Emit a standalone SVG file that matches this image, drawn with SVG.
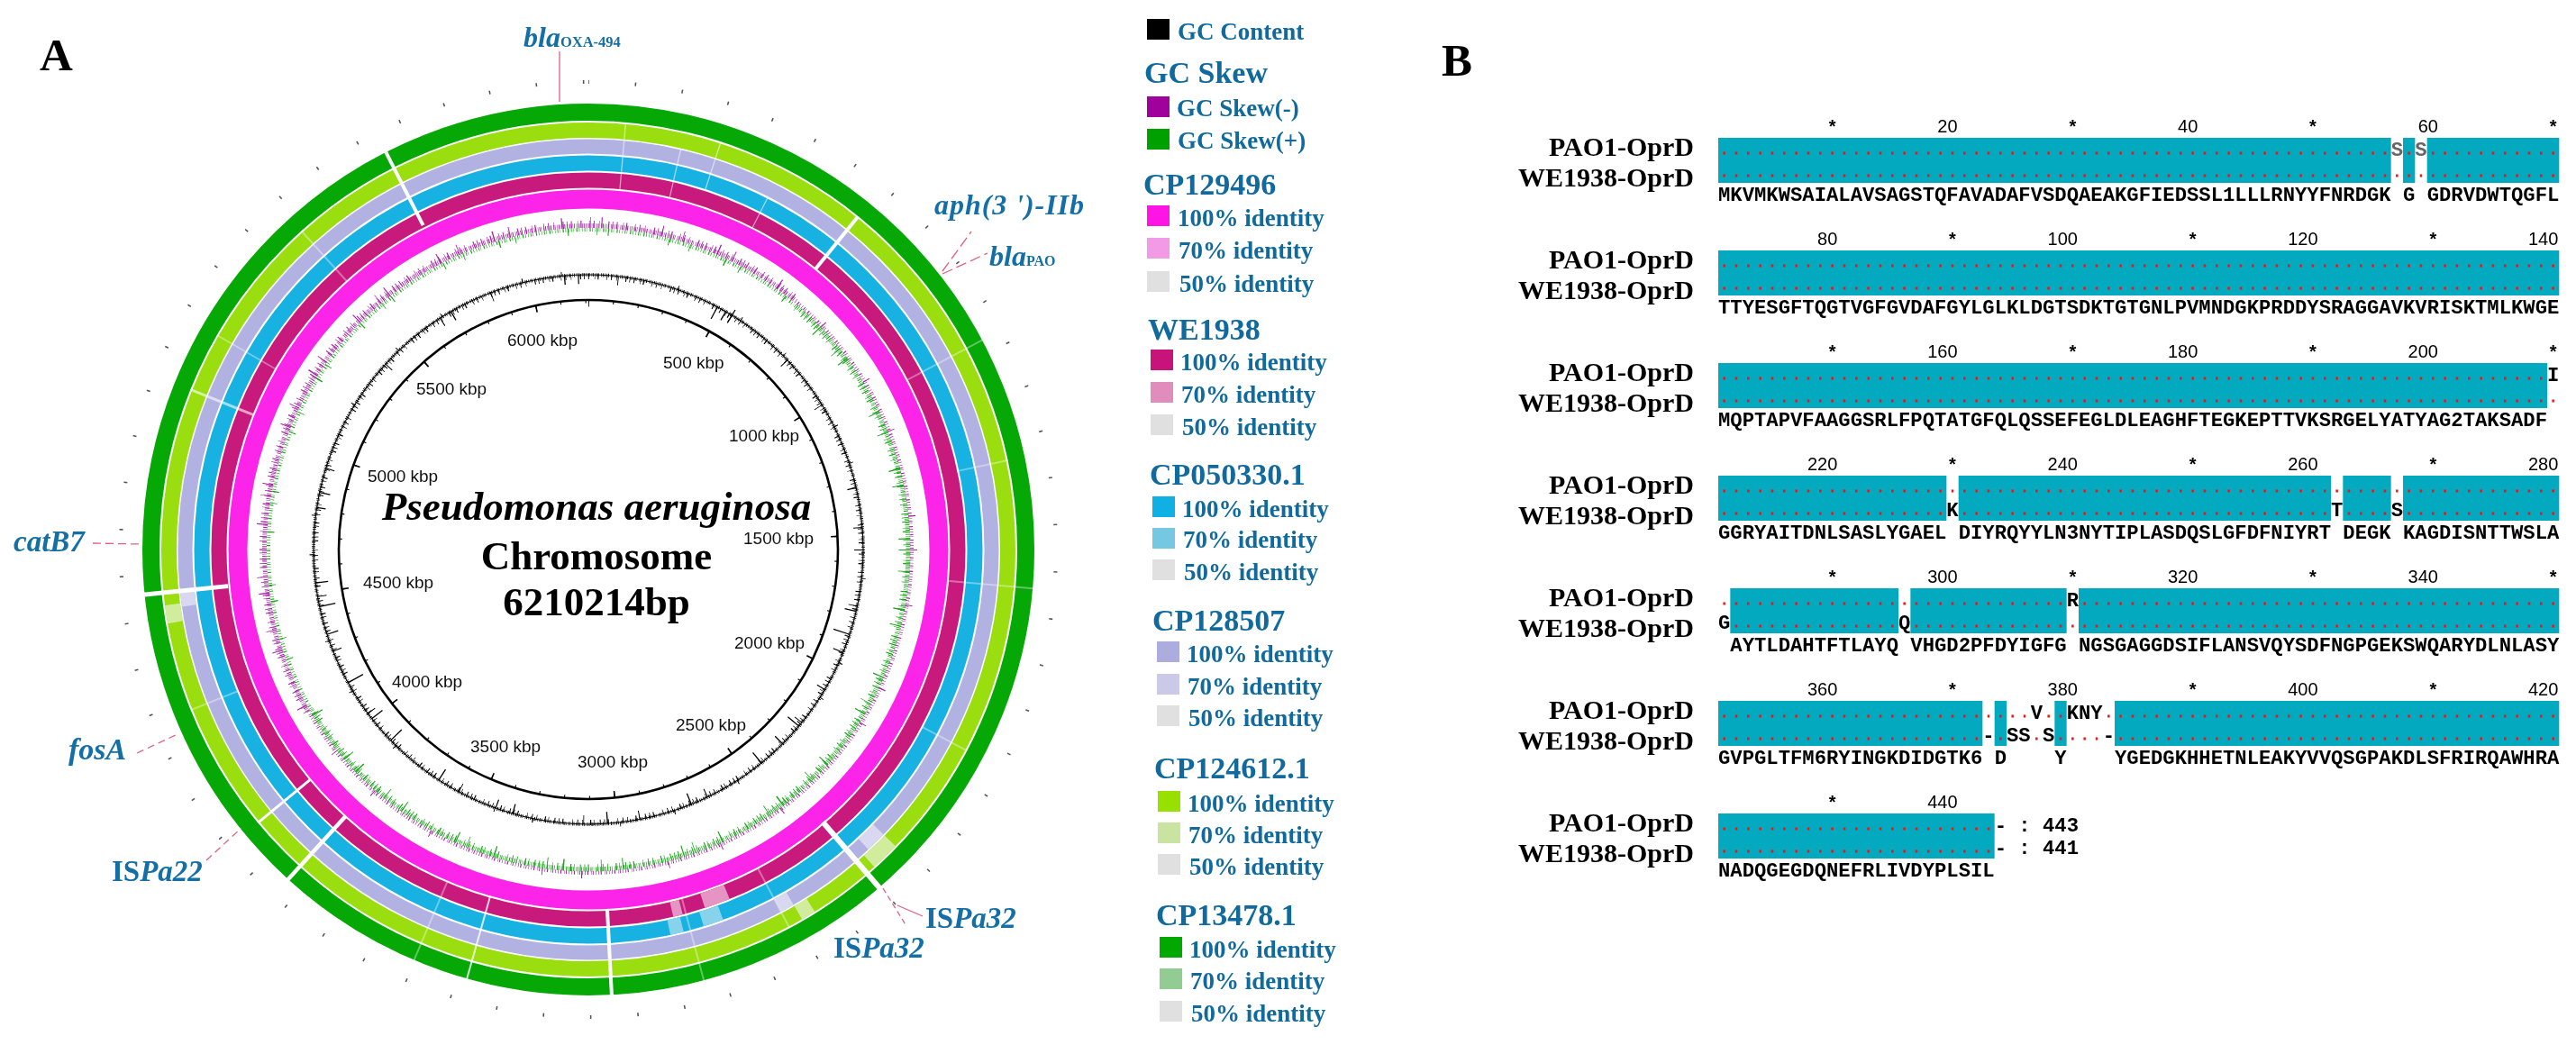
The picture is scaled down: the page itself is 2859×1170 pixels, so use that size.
<svg xmlns="http://www.w3.org/2000/svg" width="2859" height="1170" viewBox="0 0 2859 1170">
<defs>
<style>
.serif{font-family:"Liberation Serif",serif;font-weight:bold}
.item{font-family:"Liberation Serif",serif;font-weight:bold;font-size:27px;fill:#106a9e}
.head{font-family:"Liberation Serif",serif;font-weight:bold;font-size:34px;fill:#106a9e}
.ann{font-family:"Liberation Serif",serif;font-weight:bold;font-size:33px;fill:#136fa5}
.kbp{font-family:"Liberation Sans",sans-serif;font-size:19px;fill:#111}
.lab{font-family:"Liberation Serif",serif;font-weight:bold;font-size:30px;text-anchor:end;fill:#000}
.seq{font-family:"Liberation Mono",monospace;font-weight:bold;font-size:22.22px;fill:#000}
.num{font-family:"Liberation Sans",sans-serif;font-size:20px;text-anchor:end;fill:#000}
.star{font-family:"Liberation Sans",sans-serif;font-weight:bold;font-size:20px;text-anchor:middle;fill:#000}
.cy{fill:#02a9bf}
.dot{stroke:#f01414;stroke-width:3;stroke-dasharray:2.5 10.833;fill:none}
.conn{fill:none;stroke:#e2607e;stroke-width:1.3}
.p1{stroke-dasharray:0.7 1.3 0.5 0.9 1.1 2.1 0.6 1 0.8 1.7 0.5 1.2 0.9 0.8 0.6 2.4 0.7 1.1 1 1.5}
.p2{stroke-dasharray:0.8 3.9 1 6.2 0.6 2.8 1.2 8.5 0.7 4.4 0.9 5.1 0.6 9.7 1.1 3.3}
.p3{stroke-dasharray:1 23 0.8 41 1.4 17 0.9 58 1.2 31 0.7 12 1.1 67}
.p4{stroke-dasharray:0.6 2.2 0.9 1.4 0.5 3.1 1.2 1.8 0.7 2.6}
.p5{stroke-dasharray:1 61 0.8 97 1.2 43 0.9 131 1 77}
</style>
<clipPath id="cTL"><polygon points="0,0 -520,300 -591,-104 -386,-460 0,-600 386,-460"/></clipPath>
<clipPath id="cBR"><polygon points="0,0 386,-460 591,-104 520,300 205,564 -205,564 -520,300"/></clipPath>
</defs>
<rect width="2859" height="1170" fill="#fff"/>

<text class="serif" x="44" y="78" font-size="51">A</text>
<text class="serif" x="1600" y="84" font-size="51">B</text>

<g id="circle-map" transform="translate(653 610)" fill="none">
  <g id="outer-ticks" stroke="#555">
    <circle r="519" stroke-width="4" pathLength="6210.214" stroke-dasharray="3 97" stroke-dashoffset="1.5" transform="rotate(-90)"/>
  </g>
  <g id="rings">
    <circle r="485.5" stroke="#06a806" stroke-width="19"/>
    <circle r="465.5" stroke="#9ade10" stroke-width="17"/>
    <circle r="447.5" stroke="#b2b2e2" stroke-width="16"/>
    <circle r="429" stroke="#18b2e2" stroke-width="17"/>
    <circle r="410" stroke="#c81a7c" stroke-width="17"/>
    <circle r="389" stroke="#fb24e8" stroke-width="21"/>
  </g>
  <g id="ring-light">
    <circle r="410" stroke="#e594c4" stroke-width="17" pathLength="360" stroke-dasharray="4 356" transform="rotate(68)"/>
    <circle r="410" stroke="#e594c4" stroke-width="17" pathLength="360" stroke-dasharray="1.5 358.5" transform="rotate(75.5)"/>
    <circle r="429" stroke="#88d3ec" stroke-width="17" pathLength="360" stroke-dasharray="3 357" transform="rotate(70)"/>
    <circle r="429" stroke="#88d3ec" stroke-width="17" pathLength="360" stroke-dasharray="2 358" transform="rotate(76)"/>
    <circle r="447.5" stroke="#d8d8f0" stroke-width="16" pathLength="360" stroke-dasharray="3 357" transform="rotate(44)"/>
    <circle r="447.5" stroke="#d8d8f0" stroke-width="16" pathLength="360" stroke-dasharray="2 358" transform="rotate(60)"/>
    <circle r="465.5" stroke="#d2ec9e" stroke-width="17" pathLength="360" stroke-dasharray="4 356" transform="rotate(44)"/>
    <circle r="465.5" stroke="#d2ec9e" stroke-width="17" pathLength="360" stroke-dasharray="2 358" transform="rotate(58)"/>
    <circle r="465.5" stroke="#d2ec9e" stroke-width="17" pathLength="360" stroke-dasharray="2.5 357.5" transform="rotate(170)"/>
    <circle r="447.5" stroke="#d8d8f0" stroke-width="16" pathLength="360" stroke-dasharray="2 358" transform="rotate(172)"/>
  </g>
  <g id="gaps" stroke="#fff">
    <line y1="-404" y2="-497" stroke-width="4" transform="rotate(333)"/>
    <line y1="-401" y2="-475" stroke-width="4" transform="rotate(39)"/>
    <line y1="-402" y2="-497" stroke-width="5" transform="rotate(264.2)"/>
    <line y1="-401" y2="-497" stroke-width="4.5" transform="rotate(222.3)"/>
    <line y1="-401" y2="-476" stroke-width="3" transform="rotate(230.4)"/>
    <line y1="-401" y2="-497" stroke-width="4" transform="rotate(177)"/>
    <line y1="-401" y2="-497" stroke-width="2" opacity="0.8" transform="rotate(195.8)"/>
    <line y1="-399" y2="-498" stroke-width="6" transform="rotate(139.3)"/>
    <line y1="-401" y2="-476" stroke-width="3" opacity="0.6" transform="rotate(291.9)"/>
    <g stroke-width="1.3" opacity="0.55">
      <line y1="-401" y2="-476" transform="rotate(5)"/>
      <line y1="-401" y2="-456" transform="rotate(13)"/>
      <line y1="-420" y2="-476" transform="rotate(18)"/>
      <line y1="-401" y2="-438" transform="rotate(27)"/>
      <line y1="-401" y2="-497" transform="rotate(62)"/>
      <line y1="-420" y2="-476" transform="rotate(78)"/>
      <line y1="-401" y2="-497" transform="rotate(95)"/>
      <line y1="-420" y2="-476" transform="rotate(118)"/>
      <line y1="-401" y2="-476" transform="rotate(152)"/>
      <line y1="-401" y2="-497" transform="rotate(165)"/>
      <line y1="-401" y2="-497" transform="rotate(203)"/>
      <line y1="-420" y2="-476" transform="rotate(248)"/>
      <line y1="-401" y2="-476" transform="rotate(300)"/>
      <line y1="-401" y2="-476" transform="rotate(318)"/>
    </g>
  </g>
  <g id="gc-skew">
    <g clip-path="url(#cTL)">
      <circle r="359.5" stroke="#a424a4" stroke-width="5" class="p1"/>
      <circle r="361" stroke="#a424a4" stroke-width="8" class="p2"/>
      <circle r="363" stroke="#a424a4" stroke-width="12" class="p3"/>
      <circle r="355" stroke="#1aa51a" stroke-width="4" class="p4"/>
      <circle r="353" stroke="#1aa51a" stroke-width="8" class="p3" stroke-dashoffset="40"/>
    </g>
    <g clip-path="url(#cBR)">
      <circle r="355" stroke="#16a516" stroke-width="5" class="p1"/>
      <circle r="353.5" stroke="#16a516" stroke-width="8" class="p2"/>
      <circle r="351" stroke="#16a516" stroke-width="13" class="p3"/>
      <circle r="359" stroke="#a424a4" stroke-width="4" class="p4"/>
      <circle r="361" stroke="#a424a4" stroke-width="8" class="p5"/>
    </g>
  </g>
  <g id="gc-content" stroke="#000">
    <circle r="305" stroke-width="1.1"/>
    <circle r="305" stroke-width="4" class="p1"/>
    <circle r="303" stroke-width="6" class="p2"/>
    <circle r="300" stroke-width="10" class="p5"/>
    <circle r="307" stroke-width="5" class="p5" stroke-dashoffset="30"/>
    <g stroke-width="1.3">
      <line y1="-305" y2="-290" transform="rotate(28)"/>
      <line y1="-305" y2="-294" transform="rotate(30)"/>
      <line y1="-312" y2="-296" transform="rotate(31.5)"/>
      <line y1="-305" y2="-292" transform="rotate(103)"/>
      <line y1="-305" y2="-286" transform="rotate(108)"/>
      <line y1="-305" y2="-293" transform="rotate(112)"/>
      <line y1="-305" y2="-289" transform="rotate(130)"/>
      <line y1="-305" y2="-293" transform="rotate(135)"/>
      <line y1="-305" y2="-290" transform="rotate(141)"/>
      <line y1="-305" y2="-292" transform="rotate(158)"/>
      <line y1="-305" y2="-292" transform="rotate(176)"/>
      <line y1="-305" y2="-294" transform="rotate(196)"/>
      <line y1="-305" y2="-291" transform="rotate(213)"/>
      <line y1="-305" y2="-288" transform="rotate(226)"/>
      <line y1="-305" y2="-290" transform="rotate(232)"/>
      <line y1="-305" y2="-286" transform="rotate(241)"/>
      <line y1="-305" y2="-292" transform="rotate(252)"/>
      <line y1="-305" y2="-287" transform="rotate(258)"/>
      <line y1="-305" y2="-291" transform="rotate(263)"/>
      <line y1="-305" y2="-293" transform="rotate(282)"/>
      <line y1="-305" y2="-294" transform="rotate(330)"/>
      <line y1="-305" y2="-295" transform="rotate(355)"/>
    </g>
  </g>
  <g id="backbone" stroke="#000">
    <circle r="277" stroke-width="2.6"/>
    <circle r="275" stroke-width="3" pathLength="6210.214" stroke-dasharray="4 96" stroke-dashoffset="2" transform="rotate(-90)"/>
    <circle r="273" stroke-width="7" pathLength="6210.214" stroke-dasharray="6 494" stroke-dashoffset="3" transform="rotate(-90)"/>
  </g>
</g>

<g id="kbp-labels" class="kbp">
  <text x="563" y="384">6000 kbp</text>
  <text x="736" y="409">500 kbp</text>
  <text x="462" y="438">5500 kbp</text>
  <text x="809" y="490">1000 kbp</text>
  <text x="408" y="535">5000 kbp</text>
  <text x="825" y="604">1500 kbp</text>
  <text x="403" y="653">4500 kbp</text>
  <text x="815" y="720">2000 kbp</text>
  <text x="435" y="763">4000 kbp</text>
  <text x="750" y="811">2500 kbp</text>
  <text x="522" y="835">3500 kbp</text>
  <text x="641" y="852">3000 kbp</text>
</g>

<g id="title" class="serif" font-size="45" text-anchor="middle">
  <text x="662" y="577" font-style="italic">Pseudomonas aeruginosa</text>
  <text x="662" y="632">Chromosome</text>
  <text x="662" y="683">6210214bp</text>
</g>

<g id="connectors">
  <path class="conn" d="M621 57 V113"/>
  <path class="conn" d="M1046 301 L1078 257" stroke-dasharray="12 5"/>
  <path class="conn" d="M1046 304 L1096 281" stroke-dasharray="12 5"/>
  <path class="conn" d="M103 603 L156 604" stroke-dasharray="9 5"/>
  <path class="conn" d="M152 836 L197 815" stroke-dasharray="8 5"/>
  <path class="conn" d="M229 955 L268 919" stroke-dasharray="8 5"/>
  <path class="conn" d="M996 1005 L1024 1017"/>
  <path class="conn" d="M980 986 L1006 1028" stroke="#5a5aa8" stroke-dasharray="6 4"/>
</g>

<g id="gene-labels" class="ann">
  <g id="lbl-oxa"><text x="581" y="52"><tspan font-style="italic" font-size="32">bla</tspan><tspan font-size="16.5">OXA-494</tspan></text></g>
  <g id="lbl-aph"><text x="1037" y="238" font-style="italic" font-size="32" textLength="166" lengthAdjust="spacing">aph(3 ')-IIb</text></g>
  <g id="lbl-pao"><text x="1098" y="295"><tspan font-style="italic" font-size="32">bla</tspan><tspan font-size="16">PAO</tspan></text></g>
  <g id="lbl-catb7"><text x="15" y="612" font-style="italic">catB7</text></g>
  <g id="lbl-fosa"><text x="76" y="843" font-style="italic" font-size="34">fosA</text></g>
  <g id="lbl-ispa22"><text x="124" y="978">IS<tspan font-style="italic">Pa22</tspan></text></g>
  <g id="lbl-ispa32a"><text x="1027" y="1030">IS<tspan font-style="italic">Pa32</tspan></text></g>
  <g id="lbl-ispa32b"><text x="925" y="1063">IS<tspan font-style="italic">Pa32</tspan></text></g>
</g>

<g id="legend">
  <g id="leg-gc"><rect x="1273" y="21" width="25" height="23" fill="#000"/><text class="item" x="1307" y="44">GC Content</text></g>
  <text class="head" x="1270" y="92">GC Skew</text>
  <g id="leg-skn"><rect x="1273" y="107" width="25" height="23" fill="#a0009c"/><text class="item" x="1306" y="129">GC Skew(-)</text></g>
  <g id="leg-skp"><rect x="1273" y="143" width="25" height="23" fill="#00a000"/><text class="item" x="1307" y="165">GC Skew(+)</text></g>

  <text class="head" x="1269" y="216">CP129496</text>
  <g><rect x="1273" y="228" width="25" height="23" fill="#ff14e6"/><text class="item" x="1307" y="251">100% identity</text></g>
  <g><rect x="1273" y="264" width="25" height="23" fill="#f29ae6"/><text class="item" x="1308" y="287">70% identity</text></g>
  <g><rect x="1273" y="301" width="25" height="23" fill="#e0e0e0"/><text class="item" x="1309" y="324">50% identity</text></g>

  <text class="head" x="1274" y="377">WE1938</text>
  <g><rect x="1277" y="388" width="25" height="23" fill="#c8147a"/><text class="item" x="1310" y="411">100% identity</text></g>
  <g><rect x="1277" y="424" width="25" height="23" fill="#e08cbc"/><text class="item" x="1311" y="447">70% identity</text></g>
  <g><rect x="1277" y="460" width="25" height="23" fill="#e0e0e0"/><text class="item" x="1312" y="483">50% identity</text></g>

  <text class="head" x="1276" y="538">CP050330.1</text>
  <g><rect x="1279" y="551" width="25" height="23" fill="#10b0e4"/><text class="item" x="1312" y="574">100% identity</text></g>
  <g><rect x="1279" y="586" width="25" height="23" fill="#74c8e2"/><text class="item" x="1313" y="608">70% identity</text></g>
  <g><rect x="1279" y="621" width="25" height="23" fill="#e0e0e0"/><text class="item" x="1314" y="644">50% identity</text></g>

  <text class="head" x="1279" y="700">CP128507</text>
  <g><rect x="1284" y="712" width="25" height="23" fill="#acacdf"/><text class="item" x="1317" y="735">100% identity</text></g>
  <g><rect x="1284" y="748" width="25" height="23" fill="#cacae8"/><text class="item" x="1318" y="771">70% identity</text></g>
  <g><rect x="1284" y="783" width="25" height="23" fill="#e0e0e0"/><text class="item" x="1319" y="806">50% identity</text></g>

  <text class="head" x="1281" y="864">CP124612.1</text>
  <g><rect x="1285" y="878" width="25" height="23" fill="#98e000"/><text class="item" x="1318" y="901">100% identity</text></g>
  <g><rect x="1285" y="913" width="25" height="23" fill="#c8e4a0"/><text class="item" x="1319" y="936">70% identity</text></g>
  <g><rect x="1285" y="948" width="25" height="23" fill="#e0e0e0"/><text class="item" x="1320" y="971">50% identity</text></g>

  <text class="head" x="1283" y="1027">CP13478.1</text>
  <g><rect x="1287" y="1040" width="25" height="23" fill="#00a800"/><text class="item" x="1320" y="1063">100% identity</text></g>
  <g><rect x="1287" y="1075" width="25" height="23" fill="#92cc92"/><text class="item" x="1321" y="1098">70% identity</text></g>
  <g><rect x="1287" y="1111" width="25" height="23" fill="#e0e0e0"/><text class="item" x="1322" y="1134">50% identity</text></g>
</g>

<g id="alignment">
  <g id="row1">
    <text class="star" x="2033.67" y="147">*</text><text class="num" x="2172.6" y="147">20</text><text class="star" x="2300.33" y="147">*</text><text class="num" x="2439.3" y="147">40</text><text class="star" x="2567" y="147">*</text><text class="num" x="2705.9" y="147">60</text><text class="star" x="2833.67" y="147">*</text>
    <text class="lab" x="1880" y="173">PAO1-OprD</text><text class="lab" x="1880" y="207">WE1938-OprD</text>
    <rect class="cy" x="1907" y="153" width="746.67" height="50"/>
    <rect class="cy" x="2667" y="153" width="13.33" height="50"/>
    <rect class="cy" x="2693.67" y="153" width="146.67" height="50"/>
    <line class="dot" x1="1912.42" y1="170" x2="2648.25" y2="170"/>
    <line class="dot" x1="2672.42" y1="170" x2="2674.92" y2="170"/>
    <line class="dot" x1="2699.08" y1="170" x2="2834.92" y2="170"/>
    <line class="dot" x1="1912.42" y1="195" x2="2834.92" y2="195"/>
    <text class="seq" x="2653.67" y="173" style="fill:#666">S</text>
    <text class="seq" x="2680.33" y="173" style="fill:#666">S</text>
    <text class="seq" x="1907" y="223">MKVMKWSAIALAVSAGSTQFAVADAFVSDQAEAKGFIEDSSL1LLLRNYYFNRDGK</text>
    <text class="seq" x="2667" y="223">G</text>
    <text class="seq" x="2693.67" y="223">GDRVDWTQGFL</text>
  </g>
  <g id="row2">
    <text class="num" x="2039.3" y="272">80</text><text class="star" x="2167" y="272">*</text><text class="num" x="2305.9" y="272">100</text><text class="star" x="2433.67" y="272">*</text><text class="num" x="2572.6" y="272">120</text><text class="star" x="2700.33" y="272">*</text><text class="num" x="2839.3" y="272">140</text>
    <text class="lab" x="1880" y="298">PAO1-OprD</text><text class="lab" x="1880" y="332">WE1938-OprD</text>
    <rect class="cy" x="1907" y="278" width="933.33" height="50"/>
    <line class="dot" x1="1912.42" y1="295" x2="2834.92" y2="295"/>
    <line class="dot" x1="1912.42" y1="320" x2="2834.92" y2="320"/>
    <text class="seq" x="1907" y="348">TTYESGFTQGTVGFGVDAFGYLGLKLDGTSDKTGTGNLPVMNDGKPRDDYSRAGGAVKVRISKTMLKWGE</text>
  </g>
  <g id="row3">
    <text class="star" x="2033.67" y="397">*</text><text class="num" x="2172.6" y="397">160</text><text class="star" x="2300.33" y="397">*</text><text class="num" x="2439.3" y="397">180</text><text class="star" x="2567" y="397">*</text><text class="num" x="2705.9" y="397">200</text><text class="star" x="2833.67" y="397">*</text>
    <text class="lab" x="1880" y="423">PAO1-OprD</text><text class="lab" x="1880" y="457">WE1938-OprD</text>
    <rect class="cy" x="1907" y="403" width="920" height="50"/>
    <line class="dot" x1="1912.42" y1="420" x2="2821.58" y2="420"/>
    <line class="dot" x1="1912.42" y1="445" x2="2834.92" y2="445"/>
    <text class="seq" x="2827" y="423">I</text>
    <text class="seq" x="1907" y="473">MQPTAPVFAAGGSRLFPQTATGFQLQSSEFEGLDLEAGHFTEGKEPTTVKSRGELYATYAG2TAKSADF</text>
  </g>
  <g id="row4">
    <text class="num" x="2039.3" y="522">220</text><text class="star" x="2167" y="522">*</text><text class="num" x="2305.9" y="522">240</text><text class="star" x="2433.67" y="522">*</text><text class="num" x="2572.6" y="522">260</text><text class="star" x="2700.33" y="522">*</text><text class="num" x="2839.3" y="522">280</text>
    <text class="lab" x="1880" y="548">PAO1-OprD</text><text class="lab" x="1880" y="582">WE1938-OprD</text>
    <rect class="cy" x="1907" y="528" width="253.33" height="50"/>
    <rect class="cy" x="2173.67" y="528" width="413.33" height="50"/>
    <rect class="cy" x="2600.33" y="528" width="53.33" height="50"/>
    <rect class="cy" x="2667" y="528" width="173.33" height="50"/>
    <line class="dot" x1="1912.42" y1="545" x2="2834.92" y2="545"/>
    <line class="dot" x1="1912.42" y1="570" x2="2154.92" y2="570"/>
    <line class="dot" x1="2179.08" y1="570" x2="2581.58" y2="570"/>
    <line class="dot" x1="2605.75" y1="570" x2="2648.25" y2="570"/>
    <line class="dot" x1="2672.42" y1="570" x2="2834.92" y2="570"/>
    <text class="seq" x="2160.33" y="573">K</text>
    <text class="seq" x="2587" y="573">T</text>
    <text class="seq" x="2653.67" y="573">S</text>
    <text class="seq" x="1907" y="598">GGRYAITDNLSASLYGAEL</text>
    <text class="seq" x="2173.67" y="598">DIYRQYYLN3NYTIPLASDQSLGFDFNIYRT</text>
    <text class="seq" x="2600.33" y="598">DEGK</text>
    <text class="seq" x="2667" y="598">KAGDISNTTWSLA</text>
  </g>
  <g id="row5">
    <text class="star" x="2033.67" y="647">*</text><text class="num" x="2172.6" y="647">300</text><text class="star" x="2300.33" y="647">*</text><text class="num" x="2439.3" y="647">320</text><text class="star" x="2567" y="647">*</text><text class="num" x="2705.9" y="647">340</text><text class="star" x="2833.67" y="647">*</text>
    <text class="lab" x="1880" y="673">PAO1-OprD</text><text class="lab" x="1880" y="707">WE1938-OprD</text>
    <rect class="cy" x="1920.33" y="653" width="186.67" height="50"/>
    <rect class="cy" x="2120.33" y="653" width="173.33" height="50"/>
    <rect class="cy" x="2307" y="653" width="533.33" height="50"/>
    <line class="dot" x1="1912.42" y1="670" x2="2288.25" y2="670"/>
    <line class="dot" x1="2312.42" y1="670" x2="2834.92" y2="670"/>
    <line class="dot" x1="1925.75" y1="695" x2="2101.58" y2="695"/>
    <line class="dot" x1="2125.75" y1="695" x2="2834.92" y2="695"/>
    <text class="seq" x="2293.67" y="673">R</text>
    <text class="seq" x="1907" y="698">G</text>
    <text class="seq" x="2107" y="698">Q</text>
    <text class="seq" x="1920.33" y="723">AYTLDAHTFTLAYQ</text>
    <text class="seq" x="2120.33" y="723">VHGD2PFDYIGFG</text>
    <text class="seq" x="2307" y="723">NGSGAGGDSIFLANSVQYSDFNGPGEKSWQARYDLNLASY</text>
  </g>
  <g id="row6">
    <text class="num" x="2039.3" y="772">360</text><text class="star" x="2167" y="772">*</text><text class="num" x="2305.9" y="772">380</text><text class="star" x="2433.67" y="772">*</text><text class="num" x="2572.6" y="772">400</text><text class="star" x="2700.33" y="772">*</text><text class="num" x="2839.3" y="772">420</text>
    <text class="lab" x="1880" y="798">PAO1-OprD</text><text class="lab" x="1880" y="832">WE1938-OprD</text>
    <rect class="cy" x="1907" y="778" width="293.33" height="50"/>
    <rect class="cy" x="2213.67" y="778" width="13.33" height="50"/>
    <rect class="cy" x="2280.33" y="778" width="13.33" height="50"/>
    <rect class="cy" x="2347" y="778" width="493.33" height="50"/>
    <line class="dot" x1="1912.42" y1="795" x2="2248.25" y2="795"/>
    <line class="dot" x1="2272.42" y1="795" x2="2288.25" y2="795"/>
    <line class="dot" x1="2339.08" y1="795" x2="2834.92" y2="795"/>
    <line class="dot" x1="1912.42" y1="820" x2="2194.92" y2="820"/>
    <line class="dot" x1="2219.08" y1="820" x2="2221.58" y2="820"/>
    <line class="dot" x1="2259.08" y1="820" x2="2261.58" y2="820"/>
    <line class="dot" x1="2285.75" y1="820" x2="2328.25" y2="820"/>
    <line class="dot" x1="2352.42" y1="820" x2="2834.92" y2="820"/>
    <text class="seq" x="2253.67" y="798">V</text>
    <text class="seq" x="2293.67" y="798">KNY</text>
    <text class="seq" x="2200.33" y="823">-</text>
    <text class="seq" x="2227" y="823">SS</text>
    <text class="seq" x="2267" y="823">S</text>
    <text class="seq" x="2333.67" y="823">-</text>
    <text class="seq" x="1907" y="848">GVPGLTFM6RYINGKDIDGTK6</text>
    <text class="seq" x="2213.67" y="848">D</text>
    <text class="seq" x="2280.33" y="848">Y</text>
    <text class="seq" x="2347" y="848">YGEDGKHHETNLEAKYVVQSGPAKDLSFRIRQAWHRA</text>
  </g>
  <g id="row7">
    <text class="star" x="2033.67" y="897">*</text><text class="num" x="2172.6" y="897">440</text>
    <text class="lab" x="1880" y="923">PAO1-OprD</text><text class="lab" x="1880" y="957">WE1938-OprD</text>
    <rect class="cy" x="1907" y="903" width="306.67" height="50"/>
    <line class="dot" x1="1912.42" y1="920" x2="2208.25" y2="920"/>
    <line class="dot" x1="1912.42" y1="945" x2="2208.25" y2="945"/>
    <text class="seq" x="2213.67" y="923">-</text><text class="seq" x="2240.33" y="923">:</text><text class="seq" x="2267" y="923">443</text>
    <text class="seq" x="2213.67" y="948">-</text><text class="seq" x="2240.33" y="948">:</text><text class="seq" x="2267" y="948">441</text>
    <text class="seq" x="1907" y="973">NADQGEGDQNEFRLIVDYPLSIL</text>
  </g>
</g>
</svg>
